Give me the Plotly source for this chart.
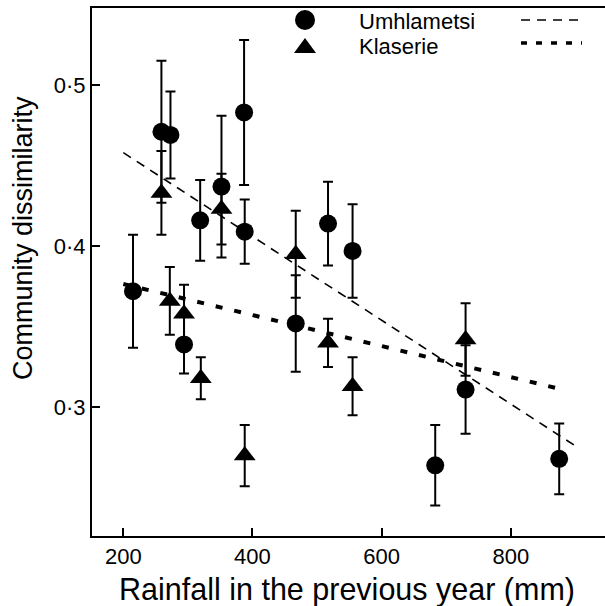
import plotly.graph_objects as go

# ---------------- data ----------------
umh_rain = [215, 259, 273, 294, 319, 352, 387, 388, 467, 517, 555, 683, 730, 875]
umh_diss = [0.372, 0.471, 0.469, 0.339, 0.416, 0.437, 0.483, 0.409, 0.352, 0.414, 0.397, 0.264, 0.311, 0.268]
umh_se   = [0.035, 0.044, 0.027, 0.018, 0.025, 0.044, 0.045, 0.020, 0.030, 0.026, 0.029, 0.025, 0.0275, 0.022]

kla_rain = [259, 272, 294, 320, 352, 388, 467, 517, 555, 730]
kla_diss = [0.433, 0.366, 0.358, 0.318, 0.423, 0.270, 0.395, 0.340, 0.313, 0.342]
kla_se   = [0.026, 0.021, 0.018, 0.013, 0.022, 0.019, 0.027, 0.015, 0.018, 0.0225]

umh_fit_x = [200, 900]
umh_fit_y = [0.458, 0.276]
kla_fit_x = [200, 875]
kla_fit_y = [0.3765, 0.3115]

x_ticks = [200, 400, 600, 800]
y_ticks = [0.3, 0.4, 0.5]
y_tick_labels = ["0·3", "0·4", "0·5"]

series_names = ["Umhlametsi", "Klaserie"]

FONT = "Liberation Sans, Arial, Helvetica, sans-serif"

# ---------------- layout geometry (pixels) ----------------
W, H = 605, 606
L, R, T, B = 92, 605, 8, 536

def pxx(x):
    return (x - L) / (R - L)

def pxy(y):
    return (B - y) / (B - T)

DASH_U = "9px,7px"
DASH_K = "7px,12px"

fig = go.Figure()

fig.add_trace(go.Scatter(x=umh_fit_x, y=umh_fit_y, mode="lines",
                         line=dict(color="black", width=1.6, dash=DASH_U),
                         showlegend=False, hoverinfo="skip"))
fig.add_trace(go.Scatter(x=kla_fit_x, y=kla_fit_y, mode="lines",
                         line=dict(color="black", width=4, dash=DASH_K),
                         showlegend=False, hoverinfo="skip"))

fig.add_trace(go.Scatter(x=umh_rain, y=umh_diss, mode="markers", name=series_names[0],
                         marker=dict(symbol="circle", size=18, color="black"),
                         error_y=dict(type="data", array=umh_se, visible=True,
                                      color="black", thickness=2, width=5),
                         showlegend=False))
fig.add_trace(go.Scatter(x=kla_rain, y=kla_diss, mode="markers", name=series_names[1],
                         marker=dict(symbol="triangle-up", size=19, color="black"),
                         error_y=dict(type="data", array=kla_se, visible=True,
                                      color="black", thickness=2, width=5),
                         showlegend=False))

# ---------------- legend (manual) ----------------
shapes = []
shapes.append(dict(type="circle", xref="paper", yref="paper",
                   xsizemode="pixel", ysizemode="pixel",
                   xanchor=pxx(305), yanchor=pxy(20),
                   x0=-10, x1=10, y0=-10, y1=10,
                   fillcolor="black", line=dict(color="black", width=0)))
shapes.append(dict(type="path", xref="paper", yref="paper",
                   xsizemode="pixel", ysizemode="pixel",
                   xanchor=pxx(305), yanchor=pxy(46),
                   path="M -11,-7 L 11,-7 L 0,8 Z",
                   fillcolor="black", line=dict(color="black", width=0)))
shapes.append(dict(type="line", xref="paper", yref="paper",
                   x0=pxx(521), x1=pxx(582), y0=pxy(20), y1=pxy(20),
                   line=dict(color="black", width=1.6, dash=DASH_U)))
shapes.append(dict(type="line", xref="paper", yref="paper",
                   x0=pxx(521), x1=pxx(582), y0=pxy(43), y1=pxy(43),
                   line=dict(color="black", width=3.5, dash="6px,9px")))

annotations = [
    dict(text=series_names[0], xref="paper", yref="paper", x=pxx(357), y=pxy(22),
         xanchor="left", yanchor="middle", showarrow=False,
         font=dict(family=FONT, size=22, color="black")),
    dict(text=series_names[1], xref="paper", yref="paper", x=pxx(357), y=pxy(46),
         xanchor="left", yanchor="middle", showarrow=False,
         font=dict(family=FONT, size=22, color="black")),
    dict(text="Rainfall in the previous year (mm)", xref="paper", yref="paper",
         x=pxx(347), y=pxy(589), xanchor="center", yanchor="middle", showarrow=False,
         font=dict(family=FONT, size=30.5, color="black")),
    dict(text="Community dissimilarity", xref="paper", yref="paper",
         x=pxx(23), y=pxy(238), xanchor="center", yanchor="middle", showarrow=False,
         textangle=-90, font=dict(family=FONT, size=27, color="black")),
]

fig.update_layout(
    width=W, height=H,
    margin=dict(l=L, r=W - R, t=T, b=H - B, pad=0),
    paper_bgcolor="white", plot_bgcolor="white",
    shapes=shapes, annotations=annotations,
    showlegend=False,
    font=dict(family=FONT, color="black"),
)

fig.update_xaxes(range=[151.5, 945.9], tickvals=x_ticks, ticktext=[str(v) for v in x_ticks],
                 ticks="inside", ticklen=8, tickwidth=2, tickcolor="black",
                 showline=True, linewidth=2, linecolor="black", mirror=True,
                 showgrid=False, zeroline=False,
                 tickfont=dict(family=FONT, size=22, color="black"))
fig.update_yaxes(range=[0.2201, 0.5478], tickvals=y_ticks, ticktext=y_tick_labels,
                 ticks="inside", ticklen=8, tickwidth=2, tickcolor="black",
                 showline=True, linewidth=2, linecolor="black", mirror=False,
                 showgrid=False, zeroline=False,
                 tickfont=dict(family=FONT, size=22, color="black"))

fig.write_html("out.html")
